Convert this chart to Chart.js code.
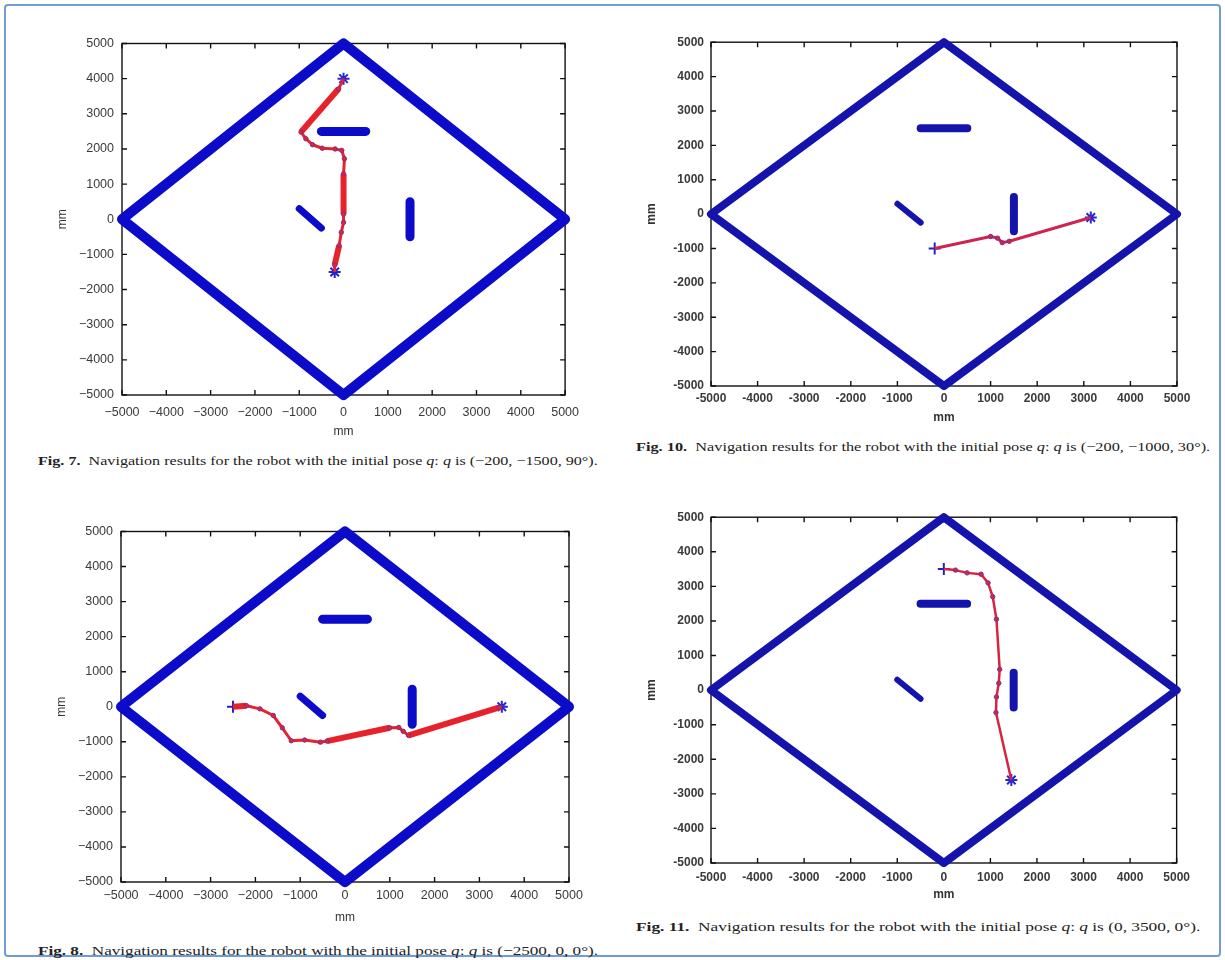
<!DOCTYPE html>
<html>
<head>
<meta charset="utf-8">
<title>Navigation results</title>
<script src="https://cdn.jsdelivr.net/npm/chart.js@4.4.1/dist/chart.umd.min.js"></script>
<style>
  html, body { margin: 0; padding: 0; background: #fff; }
  body { width: 1225px; height: 960px; position: relative; overflow: hidden; }
  .frame { position: absolute; left: 4px; top: 4px; width: 1213px; height: 949px;
           border: 2px solid #6f9bd6; border-radius: 4px; }
  canvas { position: absolute; }
  .cap { position: absolute; white-space: nowrap; font-family: "Liberation Serif", "DejaVu Serif", serif;
         font-size: 13px; color: #222; transform-origin: 0 50%; }
  .cap b { font-weight: bold; }
</style>
</head>
<body>
<div class="frame"></div>
<canvas id="c7"></canvas>
<canvas id="c10"></canvas>
<canvas id="c8"></canvas>
<canvas id="c11"></canvas>
<div class="cap" id="t7"><b>Fig. 7.</b>&nbsp; Navigation results for the robot with the initial pose <i>q</i>: <i>q</i> is (&minus;200, &minus;1500, 90°).</div>
<div class="cap" id="t10"><b>Fig. 10.</b>&nbsp; Navigation results for the robot with the initial pose <i>q</i>: <i>q</i> is (&minus;200, &minus;1000, 30°).</div>
<div class="cap" id="t8"><b>Fig. 8.</b>&nbsp; Navigation results for the robot with the initial pose <i>q</i>: <i>q</i> is (&minus;2500, 0, 0°).</div>
<div class="cap" id="t11"><b>Fig. 11.</b>&nbsp; Navigation results for the robot with the initial pose <i>q</i>: <i>q</i> is (0, 3500, 0°).</div>
<script>
// axes ticks (mm)
const tickValues = [-5000, -4000, -3000, -2000, -1000, 0, 1000, 2000, 3000, 4000, 5000];

// square room boundary
const boundaryX = [-5000, 0, 5000, 0, -5000];
const boundaryY = [0, 5000, 0, -5000, 0];

// obstacles
const wallX = [-500, 500];
const wallY = [2500, 2500];
const slantX = [-1000, -500];
const slantY = [300, -250];
const postX = [1500, 1500];
const postY = [500, -500];

// robot paths, start -> goal
const path7X = [-200, -200, -100, -50, 0, 0, 0, 20, -40, -190, -480, -700, -850, -960, -110, 0];
const path7Y = [-1500, -1300, -750, -370, -90, 150, 1290, 1720, 1960, 2000, 2020, 2120, 2290, 2480, 3710, 4000];

const path10X = [-200, 1000, 1150, 1250, 1400, 3150];
const path10Y = [-1000, -650, -700, -830, -790, -100];

const path8X = [-2500, -2200, -1900, -1600, -1400, -1200, -900, -550, -400, 1000, 1200, 1300, 1420, 3450, 3500];
const path8Y = [0, 30, -60, -250, -600, -970, -950, -1010, -980, -600, -590, -700, -820, -20, 0];

const path11X = [0, 250, 500, 800, 950, 1050, 1130, 1200, 1180, 1130, 1120, 1450];
const path11Y = [3500, 3470, 3390, 3350, 3100, 2700, 2050, 600, 200, -200, -650, -2600];

function pts(xs, ys) {
    return xs.map((x, i) => ({ x: x, y: ys[i] }));
}

// box with inward tick marks, matlab style
const boxPlugin = {
    id: 'box',
    beforeDatasetsDraw(chart) {
        const { ctx, chartArea: a, scales } = chart;
        ctx.save();
        ctx.strokeStyle = '#111';
        ctx.lineWidth = 1.4;
        ctx.strokeRect(a.left, a.top, a.right - a.left, a.bottom - a.top);
        ctx.beginPath();
        scales.x.ticks.forEach(t => {
            const px = scales.x.getPixelForValue(t.value);
            ctx.moveTo(px, a.bottom); ctx.lineTo(px, a.bottom - 5);
            ctx.moveTo(px, a.top); ctx.lineTo(px, a.top + 5);
        });
        scales.y.ticks.forEach(t => {
            const py = scales.y.getPixelForValue(t.value);
            ctx.moveTo(a.left, py); ctx.lineTo(a.left + 5, py);
            ctx.moveTo(a.right, py); ctx.lineTo(a.right - 5, py);
        });
        ctx.stroke();
        ctx.restore();
    }
};

const panels = [
    { id: 'c7', L: 122, T: 42, R: 569, B: 395, xs: path7X, ys: path7Y, thick: [1, 5, 13], wide: 6, thin: 3,
      bold: false, xPad: 10, yPad: 8, titlePad: 1, blue: '#0b0bc9', red: '#e8222b', startStyle: 'star',
      line: 10, obst: 9, cap: 't7', capX: 38, capY: 453, capW: 560 },
    { id: 'c10', L: 711, T: 42, R: 1177, B: 386, xs: path10X, ys: path10Y, thick: [], wide: 3, thin: 3,
      bold: true, xPad: 5, yPad: 7, titlePad: 6, blue: '#1414ad', red: '#cf2450', startStyle: 'cross',
      line: 8, obst: 8, cap: 't10', capX: 636, capY: 439, capW: 574 },
    { id: 'c8', L: 121, T: 530, R: 569, B: 882, xs: path8X, ys: path8Y, thick: [0, 8, 12], wide: 6, thin: 3,
      bold: false, xPad: 6, yPad: 8, titlePad: 2, blue: '#0b0bc9', red: '#e8222b', startStyle: 'cross',
      line: 10, obst: 9, cap: 't8', capX: 38, capY: 943, capW: 560 },
    { id: 'c11', L: 711, T: 517, R: 1177, B: 863, xs: path11X, ys: path11Y, thick: [], wide: 2.5, thin: 2.5,
      bold: true, xPad: 7, yPad: 7, titlePad: 6, blue: '#1414ad', red: '#d82440', startStyle: 'cross',
      line: 8, obst: 8, cap: 't11', capX: 636, capY: 919, capW: 564 }
];

const padTop = 14, padRight = 20, yAxisW = 75, xAxisH = 45;

panels.forEach(p => {
    const canvas = document.getElementById(p.id);
    const w = (p.R - p.L) + yAxisW + padRight;
    const h = (p.B - p.T) + padTop + xAxisH;
    canvas.width = w;
    canvas.height = h;
    canvas.style.left = (p.L - yAxisW) + 'px';
    canvas.style.top = (p.T - padTop) + 'px';
    canvas.style.width = w + 'px';
    canvas.style.height = h + 'px';

    const tickFont = { family: 'Liberation Sans, Arial, sans-serif', size: p.bold ? 12 : 12.5, weight: p.bold ? 'bold' : 'normal' };
    const titleFont = { family: 'Liberation Sans, Arial, sans-serif', size: 12, weight: p.bold ? 'bold' : 'normal' };
    const minus = p.bold ? '-' : '\u2212';
    const fmt = v => (v < 0 ? minus + Math.abs(v) : String(v));

    const thickLine = { borderWidth: p.obst, pointRadius: 0, borderColor: p.blue, showLine: true,
                        borderCapStyle: 'round', borderJoinStyle: 'round', clip: false };
    const n = p.xs.length;

    new Chart(canvas, {
        type: 'scatter',
        data: {
            datasets: [
                Object.assign({ label: 'boundary', data: pts(boundaryX, boundaryY) }, thickLine, { borderWidth: p.line }),
                Object.assign({ label: 'wall', data: pts(wallX, wallY) }, thickLine),
                Object.assign({ label: 'slant', data: pts(slantX, slantY) }, thickLine, { borderWidth: p.obst - 2 }),
                Object.assign({ label: 'post', data: pts(postX, postY) }, thickLine),
                {
                    label: 'path',
                    data: pts(p.xs, p.ys),
                    showLine: true,
                    borderColor: p.red,
                    borderWidth: p.thin,
                    segment: {
                        borderWidth: ctx => (p.thick.includes(ctx.p0DataIndex) ? p.wide : p.thin)
                    },
                    pointRadius: ctx => (ctx.dataIndex === 0 || ctx.dataIndex === n - 1 ? 0 : 2.2),
                    pointBackgroundColor: p.red,
                    pointBorderColor: '#7d2f8c',
                    pointBorderWidth: 1,
                    borderJoinStyle: 'round'
                },
                {
                    label: 'start',
                    data: [{ x: p.xs[0], y: p.ys[0] }],
                    pointStyle: p.startStyle,
                    pointRadius: 6,
                    pointBorderColor: '#2222c8',
                    pointBorderWidth: 2
                },
                {
                    label: 'goal',
                    data: [{ x: p.xs[n - 1], y: p.ys[n - 1] }],
                    pointStyle: 'star',
                    pointRadius: 6,
                    pointBorderColor: '#2828d0',
                    pointBorderWidth: 2
                }
            ]
        },
        options: {
            responsive: false,
            animation: false,
            devicePixelRatio: 1,
            layout: { padding: { top: padTop, right: padRight, left: 0, bottom: 0 } },
            plugins: { legend: { display: false }, tooltip: { enabled: false } },
            scales: {
                x: {
                    type: 'linear', min: -5000, max: 5000,
                    afterBuildTicks: s => { s.ticks = tickValues.map(v => ({ value: v })); },
                    afterFit: s => { s.height = xAxisH; },
                    grid: { display: false, drawTicks: false },
                    border: { display: false },
                    ticks: { callback: fmt, font: tickFont, color: '#3a3a3a', padding: p.xPad, maxRotation: 0, autoSkip: false },
                    title: { display: true, text: 'mm', font: titleFont, color: '#333', padding: { top: 0, bottom: p.titlePad } }
                },
                y: {
                    type: 'linear', min: -5000, max: 5000,
                    afterBuildTicks: s => { s.ticks = tickValues.map(v => ({ value: v })); },
                    afterFit: s => { s.width = yAxisW; },
                    grid: { display: false, drawTicks: false },
                    border: { display: false },
                    ticks: { callback: fmt, font: tickFont, color: '#3a3a3a', padding: p.yPad, autoSkip: false },
                    title: { display: true, text: 'mm', font: titleFont, color: '#333', padding: { top: 8, bottom: 0 } }
                }
            }
        },
        plugins: [boxPlugin]
    });

    // caption, stretched to the width it has in the figure
    const cap = document.getElementById(p.cap);
    cap.style.left = p.capX + 'px';
    cap.style.top = p.capY + 'px';
    const k = p.capW / cap.offsetWidth;
    cap.style.transform = 'scaleX(' + k.toFixed(3) + ')';
});
</script>
</body>
</html>
